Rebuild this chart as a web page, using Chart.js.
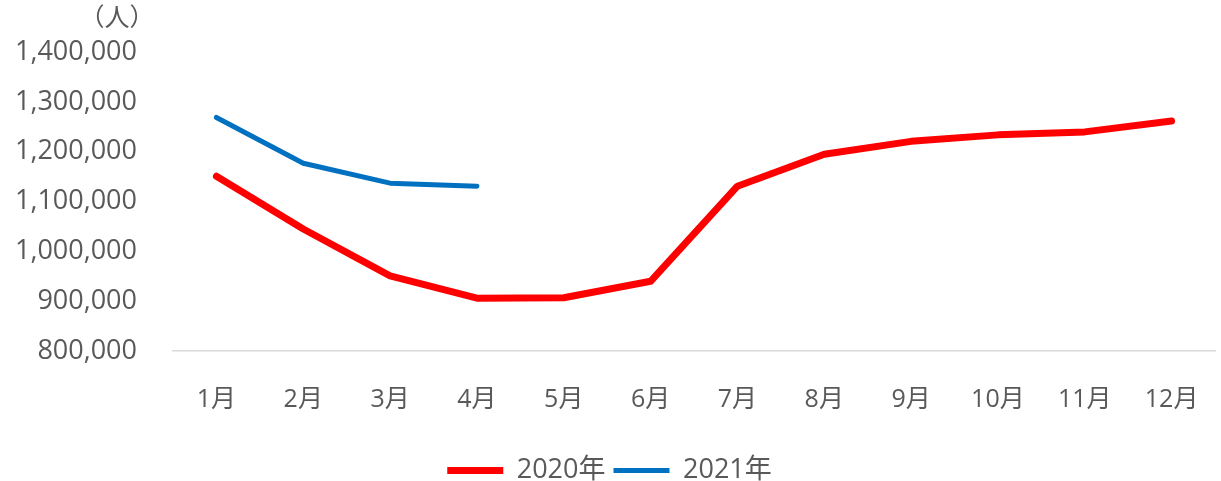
<!DOCTYPE html>
<html>
<head>
<meta charset="utf-8">
<script src="https://cdn.jsdelivr.net/npm/chart.js@4"></script>
<style>
  html, body { margin: 0; padding: 0; background: #fff; }
  #wrap { width: 1221px; height: 481px; position: relative; }
</style>
</head>
<body>
<div id="wrap"><canvas id="c" width="1221" height="481"></canvas></div>
<script>
const months = ['1月','2月','3月','4月','5月','6月','7月','8月','9月','10月','11月','12月'];
const series2020 = [1151000,1045000,951000,906000,907000,940000,1131000,1195000,1221000,1234000,1240000,1262000];
const series2021 = [1269000,1177000,1137000,1131000];
const seriesNames = ['2020年','2021年'];
const unitLabel = '（人）';
const yMin = 800000, yMax = 1400000, yStep = 100000;

const FONT = '"Open Sans", "Noto Sans CJK JP", sans-serif';
const GREY = '#595959';

const unitPlugin = {
  id: 'unitLabel',
  afterDraw(chart) {
    const ctx = chart.ctx;
    ctx.save();
    ctx.font = '25px ' + FONT;
    ctx.fillStyle = GREY;
    ctx.textAlign = 'center';
    ctx.textBaseline = 'middle';
    ctx.fillText(unitLabel, 117, 19);
    ctx.restore();
  }
};

new Chart(document.getElementById('c'), {
  type: 'line',
  data: {
    labels: months,
    datasets: [
      { label: seriesNames[0], data: series2020, borderColor: '#FF0000', backgroundColor: '#FF0000',
        borderWidth: 7, pointRadius: 0, tension: 0, borderCapStyle: 'round', borderJoinStyle: 'round' },
      { label: seriesNames[1], data: series2021, borderColor: '#0070C0', backgroundColor: '#0070C0',
        borderWidth: 5, pointRadius: 0, tension: 0, borderCapStyle: 'round', borderJoinStyle: 'round' }
    ]
  },
  options: {
    responsive: false,
    animation: false,
    layout: { padding: { top: 47, right: 6, left: 4, bottom: -13 } },
    plugins: {
      legend: {
        position: 'bottom',
        labels: {
          usePointStyle: true,
          pointStyle: 'line',
          pointStyleWidth: 56,
          color: GREY,
          font: { family: FONT, size: 27 },
          padding: 8
        }
      },
      tooltip: { enabled: false }
    },
    scales: {
      x: {
        offset: true,
        grid: { display: false, drawTicks: false },
        border: { display: true, color: '#D9D9D9', width: 1.5 },
        ticks: { color: GREY, font: { family: FONT, size: 25 }, padding: 34, maxRotation: 0 },
        afterFit(scale) { scale.paddingLeft = 0; scale.paddingRight = 0; }
      },
      y: {
        min: yMin, max: yMax,
        grid: { display: false, drawTicks: false },
        border: { display: false },
        ticks: {
          stepSize: yStep,
          color: GREY,
          font: { family: FONT, size: 27 },
          padding: 36,
          callback: v => v.toLocaleString('en-US')
        },
        afterFit(scale) { scale.width = 169; }
      }
    }
  },
  plugins: [unitPlugin]
});
</script>
</body>
</html>
